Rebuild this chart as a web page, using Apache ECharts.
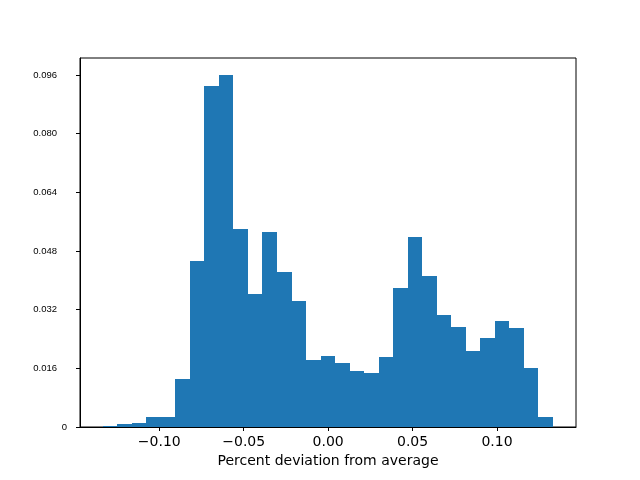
<!DOCTYPE html>
<html>
<head>
<meta charset="utf-8">
<script src="https://cdn.jsdelivr.net/npm/echarts@6/dist/echarts.min.js"></script>
<style>html,body{margin:0;padding:0;background:#fff;}#c{width:640px;height:480px;}</style>
</head>
<body>
<div id="c"></div>
<script>
// Histogram bins (uniform): first left edge and bin width
const binStart = -0.13352;
const binWidth = 0.0086026;
// Bin heights (density)
const heights = [
  0.0004, 0.0008, 0.0011, 0.0027, 0.0027, 0.0131, 0.0453, 0.0930, 0.0960, 0.0540,
  0.0363, 0.0532, 0.0423, 0.0344, 0.0183, 0.0194, 0.0175, 0.0153, 0.0147, 0.0191,
  0.0379, 0.0518, 0.0412, 0.0305, 0.0273, 0.0207, 0.0243, 0.0289, 0.0270, 0.0161,
  0.0027
];
const xTicks = [-0.10, -0.05, 0.00, 0.05, 0.10];
const yTicks = [0, 0.016, 0.032, 0.048, 0.064, 0.080, 0.096];
const xLabel = 'Percent deviation from average';

const data = heights.map((h, i) => [binStart + i * binWidth, binStart + (i + 1) * binWidth, h]);

const chart = echarts.init(document.getElementById('c'), null, {renderer: 'canvas'});
chart.setOption({
  animation: false,
  backgroundColor: '#fff',
  grid: {left: 80, right: 64, top: 58, bottom: 53, show: true, borderColor: '#000', borderWidth: 1, backgroundColor: 'transparent'},
  xAxis: {
    type: 'value',
    min: -0.14697, max: 0.14679,
    name: xLabel,
    nameLocation: 'middle',
    nameGap: 22,
    nameTextStyle: {fontFamily: 'DejaVu Sans', fontSize: 14, color: '#000'},
    axisLine: {show: true, onZero: false, lineStyle: {color: '#000', width: 1}},
    axisTick: {show: true, length: 4, inside: false, customValues: xTicks, lineStyle: {color: '#000'}},
    axisLabel: {
      customValues: xTicks, margin: 8,
      fontFamily: 'DejaVu Sans', fontSize: 14, color: '#000',
      formatter: v => v.toFixed(2).replace('-', '\u2212')
    },
    splitLine: {show: false}
  },
  yAxis: {
    type: 'value',
    min: 0, max: 0.10064,
    axisLine: {show: true, onZero: false, lineStyle: {color: '#000', width: 1}},
    axisTick: {show: true, length: 4, inside: false, customValues: yTicks, lineStyle: {color: '#000'}},
    axisLabel: {
      customValues: yTicks, margin: 13,
      fontFamily: 'Liberation Sans', fontSize: 9.5, color: '#000',
      formatter: v => v === 0 ? '0' : '{a|' + v.toFixed(3) + '}',
      rich: {a: {fontFamily: 'Liberation Sans', fontSize: 9.5, color: '#000', padding: [0, 10, 0, 0]}}
    },
    splitLine: {show: false}
  },
  series: [{
    type: 'custom',
    clip: true,
    data: data,
    encode: {x: [0, 1], y: 2},
    renderItem: function (params, api) {
      const p0 = api.coord([api.value(0), api.value(2)]);
      const p1 = api.coord([api.value(1), 0]);
      const x0 = Math.round(p0[0]), x1 = Math.round(p1[0]);
      const y0 = Math.round(p0[1]), y1 = p1[1];
      return {
        type: 'rect',
        shape: {x: x0, y: y0, width: x1 - x0, height: y1 - y0},
        style: {fill: '#1f77b4'}
      };
    }
  }]
});
</script>
</body>
</html>
